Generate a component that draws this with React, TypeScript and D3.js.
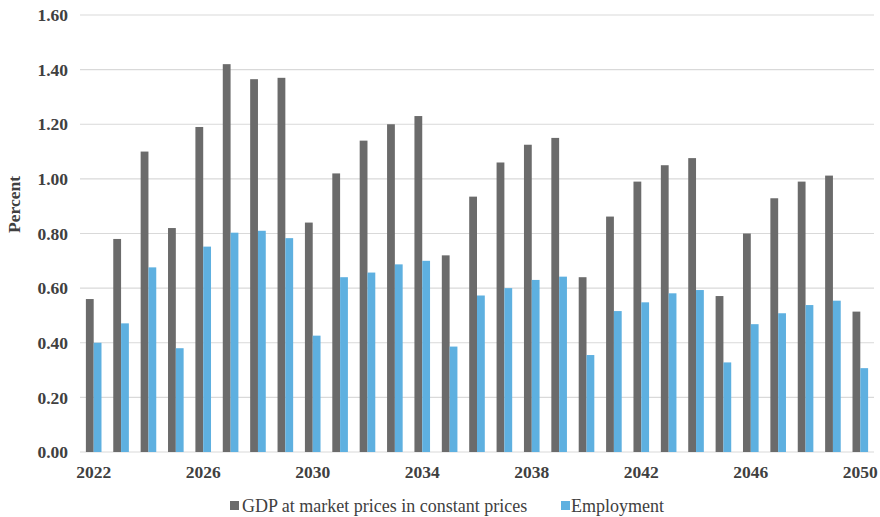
import React from "react";
import * as d3 from "d3";

const years: string[] = [];
for (let y = 2022; y <= 2050; y++) years.push(String(y));

const gdp = [0.56, 0.78, 1.1, 0.82, 1.19, 1.42, 1.365, 1.37, 0.84, 1.02, 1.14, 1.2, 1.23, 0.72, 0.935, 1.06, 1.125, 1.15, 0.64, 0.862, 0.99, 1.05, 1.076, 0.571, 0.8, 0.929, 0.99, 1.012, 0.514];
const employment = [0.4, 0.471, 0.676, 0.38, 0.752, 0.803, 0.81, 0.783, 0.426, 0.64, 0.657, 0.687, 0.7, 0.386, 0.573, 0.6, 0.63, 0.642, 0.355, 0.516, 0.548, 0.581, 0.593, 0.328, 0.468, 0.508, 0.538, 0.554, 0.307];
const yTicks = [0, 0.2, 0.4, 0.6, 0.8, 1.0, 1.2, 1.4, 1.6];
const xTickLabels = ["2022", "2026", "2030", "2034", "2038", "2042", "2046", "2050"];
const seriesNames = ["GDP at market prices in constant prices", "Employment"];
const colors = ["#6b6b6b", "#5eb0e0"];

const W = 880;
const H = 517;
const left = 80;
const right = 874;
const top = 15;
const bottom = 452;

const font = "Liberation Serif, DejaVu Serif, serif";
const textStyle = { fontFamily: font };

export default function App() {
  const x = d3.scaleBand<string>().domain(years).range([left, right]).paddingInner(0.43).paddingOuter(0.215);
  const sub = d3.scaleBand<string>().domain(["gdp", "emp"]).range([0, x.bandwidth()]).padding(0);
  const y = d3.scaleLinear().domain([0, 1.6]).range([bottom, top]);

  return (
    <svg width={W} height={H} style={{ position: "absolute", left: 0, top: 0, background: "#fff", fontFamily: font }}>
      {yTicks.map((t) => (
        <g key={t}>
          <line x1={left} x2={right} y1={y(t)} y2={y(t)} stroke="#d9d9d9" strokeWidth={1.2} />
          <text x={68} y={y(t)} dy="0.35em" textAnchor="end" fontSize={17.5} fontWeight="bold" fill="#404040" style={textStyle}>
            {t.toFixed(2)}
          </text>
        </g>
      ))}
      {years.map((yr, i) => (
        <g key={yr}>
          <rect x={(x(yr) as number) + (sub("gdp") as number)} y={y(gdp[i])} width={sub.bandwidth()} height={y(0) - y(gdp[i])} fill={colors[0]} />
          <rect x={(x(yr) as number) + (sub("emp") as number)} y={y(employment[i])} width={sub.bandwidth()} height={y(0) - y(employment[i])} fill={colors[1]} />
        </g>
      ))}
      {xTickLabels.map((l) => (
        <text key={l} x={(x(l) as number) + x.bandwidth() / 2} y={478} textAnchor="middle" fontSize={17.5} fontWeight="bold" fill="#404040" style={textStyle}>
          {l}
        </text>
      ))}
      <text transform={`translate(20, ${(top + bottom) / 2 - 29}) rotate(-90)`} textAnchor="middle" fontSize={17.5} fontWeight="bold" fill="#404040" style={textStyle}>
        Percent
      </text>
      <rect x={230} y={501} width={9} height={9} fill={colors[0]} />
      <text x={242} y={512} fontSize={18} fill="#404040" style={textStyle}>{seriesNames[0]}</text>
      <rect x={561} y={501} width={9} height={9} fill={colors[1]} />
      <text x={571} y={512} fontSize={18} fill="#404040" style={textStyle}>{seriesNames[1]}</text>
    </svg>
  );
}
